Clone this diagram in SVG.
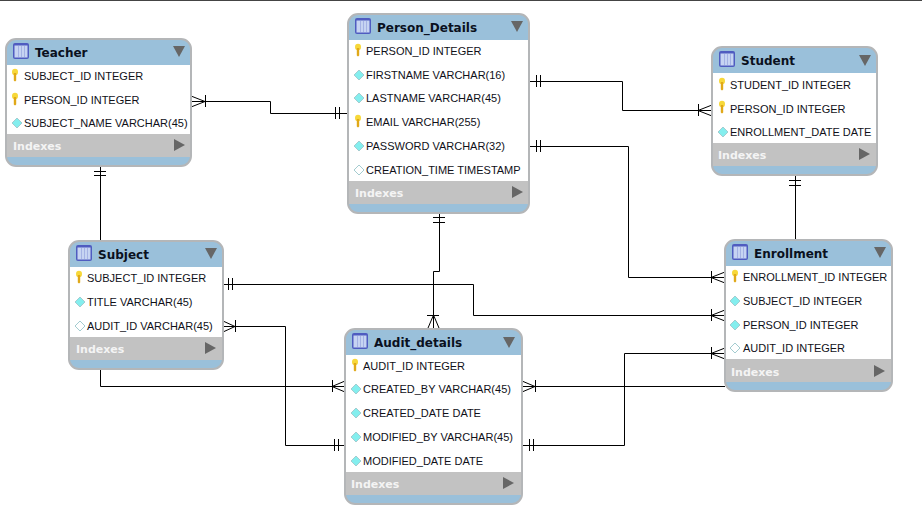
<svg xmlns="http://www.w3.org/2000/svg" width="922" height="531" viewBox="0 0 922 531">
<style>
.box{fill:#9ac0da;stroke:#b4b6b8;stroke-width:2}
.rows{fill:#fff}
.idx{fill:#c2c2c2}
.title{font:bold 12px "DejaVu Sans",sans-serif;fill:#0a1020}
.col{font:11px "Liberation Sans",Arial,sans-serif;fill:#101018}
.ix{font:bold 11px "DejaVu Sans",sans-serif;fill:#f4f4f4}
.tri{fill:#666}
.con{fill:none;stroke:#000;stroke-width:1}
</style>
<defs>
<g id="tbl"><rect x="0" y="0" width="16" height="16" rx="2" fill="#4f5cc0"/><rect x="1.500" y="2.500" width="13" height="12" fill="#c6d4f2"/><path d="M5.500 3v11M8.500 3v11M11.500 3v11" stroke="#a4b2e4" stroke-width="1"/></g>
<g id="key"><ellipse cx="3" cy="3" rx="3" ry="3.200" fill="#f7d83a"/><path d="M1.800 4h2.400v7.500l-1.200 1-1.200-1z" fill="#e0a818"/></g>
<path id="dia" d="M0 0l5-5 5 5-5 5z" fill="#84eeee" stroke="#a4ccd0"/>
<path id="emp" d="M0 0l5-5 5 5-5 5z" fill="#fff" stroke="#a4ccd0"/>
<path id="dn" d="M0 0h12l-6 11z"/>
<path id="rt" d="M0 0l11 6-11 6z"/>
</defs>
<rect width="922" height="531" fill="#fff"/>
<path d="M0 .5H922" stroke="#444" stroke-width="1"/>
<g id="connectors" class="con">
<path d="M191.500 101.500H270.500V113.500H348M191 96L205 101.500L191 107M205.500 95V107M335.500 107V119M339.500 107V119"/>
<path d="M529 81.500H622.500V110.500H712M536.500 75V87M540.500 75V87M712 105L698 110.500L712 116M698.500 104V116"/>
<path d="M529 146.500H628.500V277.500H725M536.500 140V152M540.500 140V152M725 272L711 277.500L725 283M711.500 271V283"/>
<path d="M223 284.500H473.500V315.500H725M228.500 278V290M232.500 278V290M725 310L711 315.500L725 321M711.500 309V321"/>
<path d="M522 386.500H725M522 381L535 386.500L522 392M535.500 380V392"/>
<path d="M522 445.500H624.500V353.500H725M529.500 439V451M533.500 439V451M725 348L711 353.500L725 359M711.500 347V359"/>
<path d="M223 326.500H285.500V445.500H345M223 321L235 326.500L223 332M235.500 320V332M334.500 439V451M338.500 439V451"/>
<path d="M100.500 369V386.500H345M345 381L332 386.500L345 392M332.500 380V392"/>
<path d="M100.500 166V240M94 171.500H106M94 175.500H106"/>
<path d="M795.500 175V239M789 180.500H801M789 185.500H801"/>
<path d="M439.500 213V271.500H433.500V328M428 328L433.500 315L439 328M427 315.500H439M433 217.500H445M433 222.500H445"/>
</g>
<g id="Teacher">
<rect class="box" x="6" y="39" width="185" height="127" rx="10"/>
<rect class="rows" x="7" y="65" width="183" height="69"/>
<rect class="idx" x="7" y="134" width="183" height="23"/>
<use href="#tbl" x="13" y="43"/><text class="title" x="35" y="57">Teacher</text><use href="#dn" class="tri" x="173" y="46"/>
<use href="#key" x="12" y="69"/><text class="col" x="24" y="80">SUBJECT_ID INTEGER</text>
<use href="#key" x="12" y="93"/><text class="col" x="24" y="104">PERSON_ID INTEGER</text>
<use href="#dia" x="12" y="123"/><text class="col" x="24" y="127">SUBJECT_NAME VARCHAR(45)</text>
<text class="ix" x="13" y="150">Indexes</text><use href="#rt" class="tri" x="174" y="139"/>
</g>
<g id="Person_Details">
<rect class="box" x="348" y="14" width="181" height="199" rx="10"/>
<rect class="rows" x="349" y="40" width="179" height="141"/>
<rect class="idx" x="349" y="181" width="179" height="23"/>
<use href="#tbl" x="355" y="18"/><text class="title" x="377" y="32">Person_Details</text><use href="#dn" class="tri" x="511" y="21"/>
<use href="#key" x="355" y="44"/><text class="col" x="366" y="55">PERSON_ID INTEGER</text>
<use href="#dia" x="354" y="75"/><text class="col" x="366" y="79">FIRSTNAME VARCHAR(16)</text>
<use href="#dia" x="354" y="98"/><text class="col" x="366" y="102">LASTNAME VARCHAR(45)</text>
<use href="#key" x="355" y="115"/><text class="col" x="366" y="126">EMAIL VARCHAR(255)</text>
<use href="#dia" x="354" y="146"/><text class="col" x="366" y="150">PASSWORD VARCHAR(32)</text>
<use href="#emp" x="354" y="170"/><text class="col" x="366" y="174">CREATION_TIME TIMESTAMP</text>
<text class="ix" x="355" y="197">Indexes</text><use href="#rt" class="tri" x="512" y="186"/>
</g>
<g id="Student">
<rect class="box" x="712" y="47" width="165" height="128" rx="10"/>
<rect class="rows" x="713" y="73" width="163" height="70"/>
<rect class="idx" x="713" y="143" width="163" height="23"/>
<use href="#tbl" x="719" y="51"/><text class="title" x="741" y="65">Student</text><use href="#dn" class="tri" x="859" y="55"/>
<use href="#key" x="719" y="78"/><text class="col" x="730" y="89">STUDENT_ID INTEGER</text>
<use href="#key" x="719" y="101"/><text class="col" x="730" y="113">PERSON_ID INTEGER</text>
<use href="#dia" x="718" y="132"/><text class="col" x="730" y="136">ENROLLMENT_DATE DATE</text>
<text class="ix" x="718" y="159">Indexes</text><use href="#rt" class="tri" x="859" y="148"/>
</g>
<g id="Subject">
<rect class="box" x="69" y="241" width="154" height="128" rx="10"/>
<rect class="rows" x="70" y="267" width="152" height="70"/>
<rect class="idx" x="70" y="337" width="152" height="23"/>
<use href="#tbl" x="76" y="245"/><text class="title" x="98" y="259">Subject</text><use href="#dn" class="tri" x="205" y="248"/>
<use href="#key" x="76" y="271"/><text class="col" x="87" y="282">SUBJECT_ID INTEGER</text>
<use href="#dia" x="75" y="302"/><text class="col" x="87" y="306">TITLE VARCHAR(45)</text>
<use href="#emp" x="75" y="326"/><text class="col" x="87" y="330">AUDIT_ID VARCHAR(45)</text>
<text class="ix" x="76" y="353">Indexes</text><use href="#rt" class="tri" x="205" y="342"/>
</g>
<g id="Audit_details">
<rect class="box" x="345" y="329" width="177" height="175" rx="10"/>
<rect class="rows" x="346" y="355" width="175" height="117"/>
<rect class="idx" x="346" y="472" width="175" height="23"/>
<use href="#tbl" x="352" y="333"/><text class="title" x="374" y="347">Audit_details</text><use href="#dn" class="tri" x="503" y="337"/>
<use href="#key" x="352" y="359"/><text class="col" x="363" y="370">AUDIT_ID INTEGER</text>
<use href="#dia" x="351" y="389"/><text class="col" x="363" y="393">CREATED_BY VARCHAR(45)</text>
<use href="#dia" x="351" y="413"/><text class="col" x="363" y="417">CREATED_DATE DATE</text>
<use href="#dia" x="351" y="437"/><text class="col" x="363" y="441">MODIFIED_BY VARCHAR(45)</text>
<use href="#dia" x="351" y="461"/><text class="col" x="363" y="465">MODIFIED_DATE DATE</text>
<text class="ix" x="351" y="488">Indexes</text><use href="#rt" class="tri" x="503" y="477"/>
</g>
<g id="Enrollment">
<rect class="box" x="725" y="240" width="167" height="151" rx="10"/>
<rect class="rows" x="726" y="266" width="165" height="93"/>
<rect class="idx" x="726" y="359" width="165" height="23"/>
<use href="#tbl" x="732" y="244"/><text class="title" x="754" y="258">Enrollment</text><use href="#dn" class="tri" x="874" y="247"/>
<use href="#key" x="732" y="270"/><text class="col" x="743" y="281">ENROLLMENT_ID INTEGER</text>
<use href="#dia" x="730" y="301"/><text class="col" x="743" y="305">SUBJECT_ID INTEGER</text>
<use href="#dia" x="730" y="325"/><text class="col" x="743" y="329">PERSON_ID INTEGER</text>
<use href="#emp" x="730" y="348"/><text class="col" x="743" y="352">AUDIT_ID INTEGER</text>
<text class="ix" x="731" y="376">Indexes</text><use href="#rt" class="tri" x="874" y="365"/>
</g>
</svg>
